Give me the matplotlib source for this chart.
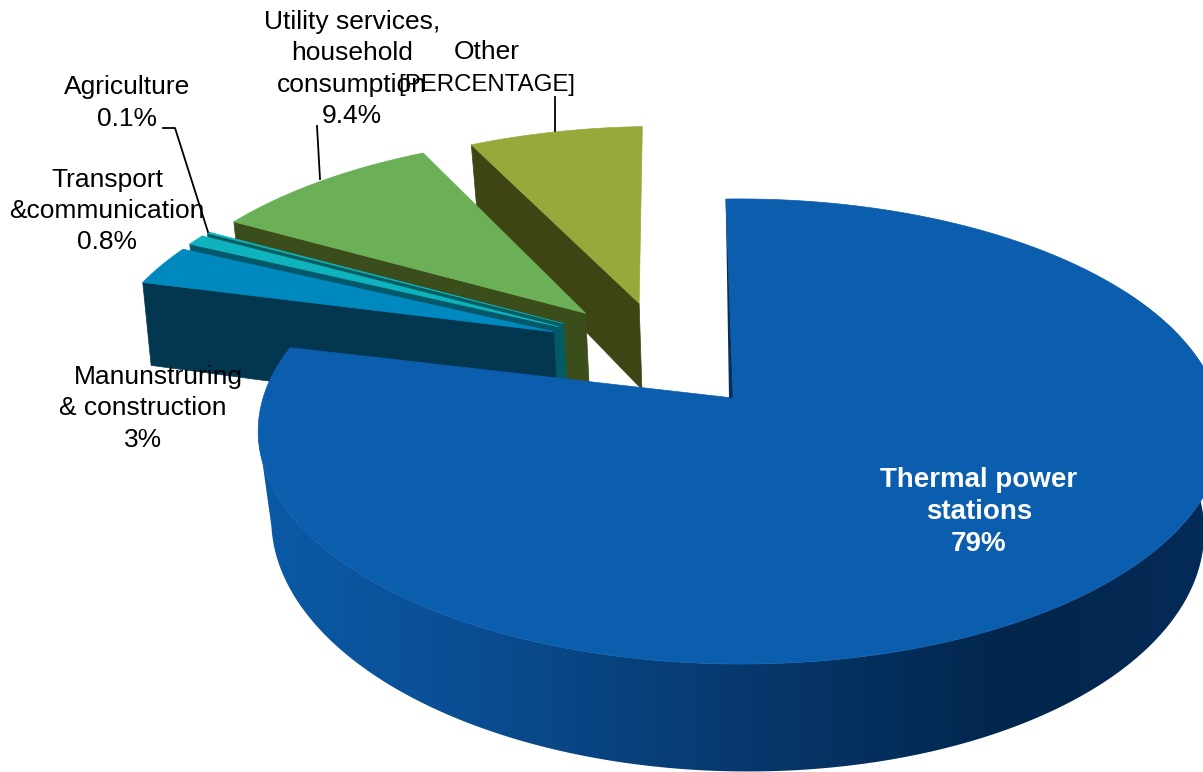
"""
3d exploded pie of energy use by sector
"""

import matplotlib
matplotlib.use('Agg')
import matplotlib.pyplot as plt
import numpy as np
from matplotlib.colors import LinearSegmentedColormap
from matplotlib.patches import Polygon

sectors = ['Thermal power stations', 'Manufacturing', 'Transport', 'Agriculture', 'Utility', 'Other']
shares = [79, 3, 0.8, 0.1, 9.4, 7.1]

top_colors = ['#0B5DAE', '#0089BF', '#0FB3BD', '#0FB3BD', '#6BB056', '#97A93B']
side_colors = ['#05305E', '#03364F', '#04586A', '#035E62', '#3A4D1A', '#3F4415']
# how far each slice is pulled out, in disc units, and turned a little
explode = [(0, 0), (-0.395, -0.305), (-0.385, -0.33), (-0.375, -0.345), (-0.328, -0.395), (-0.21, -0.444)]
turn = [0, 1.3, 1.5, 1.5, 2, 2]

X0, Y0 = 733, 398   # centre of the disc on the picture
W_TOP, W_BOT = 477, 461.5
H = 227.7
K = 0.144           # perspective, front to back
KU = 0.015          # perspective, left to right (top face only)
DEPTH = 92
START = -1


def proj(u, v, z=0):
    s = 1 / (1 - K * v - KU * (1 - z) * u)
    w = W_TOP + (W_BOT - W_TOP) * z
    x = X0 + w * u * s + z * 12 * np.clip(v + 0.25, 0, None)  # bottom leans right towards the front
    y = Y0 + H * v * s + DEPTH * s * z
    return np.column_stack([x, y])


def disc(theta, off):
    t = np.radians(theta)
    return np.sin(t) + off[0], -np.cos(t) + off[1]


fig = plt.figure(figsize=(12.03, 7.72), dpi=100)
ax = fig.add_axes([0, 0, 1, 1])
ax.axis('off')

angles = np.cumsum([0] + shares) / 100 * 360 + START

# painter's order: back slices first, thermal slice last
for i in [5, 4, 3, 2, 1, 0]:
    a0, a1 = angles[i] + turn[i], angles[i + 1] + turn[i]
    off = explode[i]
    th = np.linspace(a0, a1, 300)
    u, v = disc(th, off)
    apex_u, apex_v = np.array([off[0]]), np.array([off[1]])
    su, sv = disc(np.array([a0]), off)

    if i == 0:
        # rim with left to right shading, only from the right edge round to the left edge
        top = proj(u, v)
        bot = proj(u, v, 1)
        right = th > 60
        end = np.argmin(top[:, 0])
        keep = right & (np.arange(len(th)) <= end)
        rim = Polygon(np.vstack([top[keep], bot[keep][::-1]]), closed=True, fc='none', ec='none')
        ax.add_patch(rim)
        cmap = LinearSegmentedColormap.from_list('rim', [
            (0, '#0B5AA6'), (0.22, '#0A4E93'), (0.5, '#07396F'),
            (0.8, '#02264C'), (1, '#042B57')])
        img = ax.imshow(np.linspace(0, 1, 512)[None, :], cmap=cmap, extent=[258, 1203, 772, 0],
                        aspect='auto', zorder=1)
        img.set_clip_path(rim)
        # thin dark sliver on the cut of the big slice
        apex = proj(apex_u, apex_v)
        sliver = np.vstack([apex, proj(su, sv), apex + [-4, 0]])
        ax.add_patch(Polygon(sliver, closed=True, fc=side_colors[i], ec='none', zorder=14))
    else:
        # radial face along the start edge
        face = np.vstack([proj(apex_u, apex_v), proj(su, sv), proj(su, sv, 1), proj(apex_u, apex_v, 1)])
        ax.add_patch(Polygon(face, closed=True, fc=side_colors[i], ec=side_colors[i], lw=0.5, zorder=2 + (5 - i) * 2))

    wedge = np.vstack([proj(apex_u, apex_v), proj(u, v)])
    ax.add_patch(Polygon(wedge, closed=True, fc=top_colors[i], ec=top_colors[i], lw=0.5, zorder=3 + (5 - i) * 2))

ax.set_xlim(0, 1203)
ax.set_ylim(772, 0)

# leader lines
ax.plot([163, 175, 208], [128, 128, 232], color='black', lw=1.3, zorder=20)
ax.plot([317, 320], [126, 179], color='black', lw=1.3, zorder=20)
ax.plot([555, 555], [97, 131], color='black', lw=1.3, zorder=20)

font = 'Liberation Sans'
labels = [
    (352, 69, 'Utility services,\nhousehold\nconsumption\n9.4%', 19),
    (487, 52, 'Other', 19),
    (487, 85, '[PERCENTAGE]', 17.3),
    (127, 103, 'Agriculture\n0.1%', 19),
    (107, 211, 'Transport\n&communication\n0.8%', 19),
    (158, 377, 'Manunstruring', 19),
    (143, 424, '& construction\n3%', 19),
]
for x, y, s, size in labels:
    ax.text(x, y, s, ha='center', va='center', fontsize=size, family=font, color='black',
            linespacing=1.38, zorder=21)
ax.text(979, 512, 'Thermal power\nstations\n79%', ha='center', va='center', fontsize=20,
        family=font, fontweight='bold', color='white', linespacing=1.28, zorder=21)

fig.savefig('out.png', dpi=100)
